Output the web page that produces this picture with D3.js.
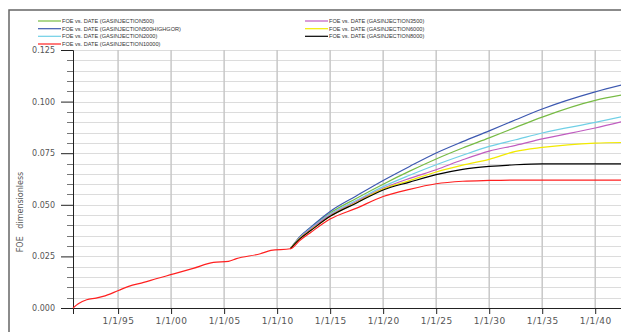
<!DOCTYPE html>
<html>
<head>
<meta charset="utf-8">
<script src="https://cdn.jsdelivr.net/npm/d3@7/dist/d3.min.js"></script>
<style>
  body { margin: 0; background: #fff; }
  svg { display: block; }
</style>
</head>
<body>
<div id="chart"></div>
<script>
// history (shared by every case, drawn once under the red case)
var histDates = ["1990-10-01","1991-04-01","1992-01-15","1992-12-01","1993-08-01","1995-01-15",
  "1996-01-01","1997-06-01","1998-09-01","2000-04-01","2002-02-01","2004-01-01","2005-06-01",
  "2006-03-01","2008-06-01","2009-06-01","2011-04-01"];
var histFoe = [0.0000,0.0020,0.0040,0.0048,0.0056,0.0085,0.0105,0.0124,0.0143,0.0165,0.0192,
  0.0221,0.0226,0.0239,0.0263,0.0279,0.0287];

// forecast dates
var fcDates = ["2012-03-01","2013-03-01","2015-01-01","2017-07-01","2020-01-01","2022-07-01",
  "2025-01-01","2027-07-01","2030-01-01","2032-07-01","2035-01-01","2040-01-01","2042-08-15"];

var gi500      = [0.0345,0.0388,0.0460,0.0532,0.0600,0.0663,0.0722,0.0775,0.0824,0.0875,0.0925,0.1006,0.1033];
var gi500hgor  = [0.0347,0.0392,0.0468,0.0544,0.0618,0.0686,0.0751,0.0806,0.0858,0.0912,0.0964,0.1047,0.1082];
var gi2000     = [0.0343,0.0385,0.0455,0.0522,0.0588,0.0643,0.0694,0.0740,0.0783,0.0815,0.0848,0.0899,0.0928];
var gi3500     = [0.0341,0.0382,0.0450,0.0516,0.0580,0.0628,0.0670,0.0718,0.0760,0.0788,0.0819,0.0872,0.0904];
var gi6000     = [0.0338,0.0377,0.0445,0.0511,0.0576,0.0617,0.0659,0.0692,0.0720,0.0759,0.0778,0.0799,0.0802];
var gi8000     = [0.0336,0.0375,0.0444,0.0509,0.0572,0.0610,0.0646,0.0672,0.0686,0.0694,0.0698,0.0698,0.0698];
var gi10000    = [0.0328,0.0366,0.0431,0.0484,0.0540,0.0575,0.0602,0.0614,0.0618,0.0620,0.0620,0.0620,0.0620];

var seriesNames  = ["GASINJECTION500","GASINJECTION500HIGHGOR","GASINJECTION2000","GASINJECTION10000",
                    "GASINJECTION3500","GASINJECTION6000","GASINJECTION8000"];
var seriesVals   = [gi500, gi500hgor, gi2000, gi10000, gi3500, gi6000, gi8000];
var seriesColors = ["#77bb44","#3c58b0","#70d0e6","#ff2020","#c05cc0","#f2ea00","#000000"];
var drawOrder    = [0, 1, 2, 4, 5, 6, 3];

var yTicks = [0, 0.025, 0.05, 0.075, 0.1, 0.125];

var width = 621, height = 332;
var parse = d3.timeParse("%Y-%m-%d");

var svg = d3.select("#chart").append("svg")
    .attr("width", width)
    .attr("height", height);

// frame
svg.append("rect")
    .attr("x", 9).attr("y", 10)
    .attr("width", 700).attr("height", 400)
    .style("fill", "none")
    .style("stroke", "#666")
    .style("stroke-width", 1.5);

var x = d3.scaleTime()
    .domain([parse("1990-10-01"), parse("2042-08-15")])
    .range([73, 623]);

var y = d3.scaleLinear()
    .domain([0, 0.125])
    .range([308, 50]);

var xTickDates = d3.range(1995, 2041, 5).map(function(yr){ return new Date(yr, 0, 1); });
var minorY = d3.range(0, 0.1251, 0.005);

// horizontal grid
svg.append("g").selectAll("line")
    .data(minorY.slice(1))
    .enter().append("line")
    .attr("x1", 73).attr("x2", width)
    .attr("y1", function(d){ return Math.round(y(d)) + 0.5; })
    .attr("y2", function(d){ return Math.round(y(d)) + 0.5; })
    .style("stroke", "#dcdcdc")
    .style("stroke-width", 1.2);

// vertical grid
svg.append("g").selectAll("line")
    .data(xTickDates)
    .enter().append("line")
    .attr("x1", function(d){ return x(d); })
    .attr("x2", function(d){ return x(d); })
    .attr("y1", 50).attr("y2", 308)
    .style("stroke", "#c8c8c8")
    .style("stroke-width", 1.5);

// y axis
var yAxis = svg.append("g")
    .attr("transform", "translate(73,0)")
    .call(d3.axisLeft(y).tickValues(yTicks).tickFormat(d3.format(".3f")).tickSize(12).tickPadding(6));
yAxis.select(".domain").style("stroke", "#222");
yAxis.selectAll(".tick line").style("stroke", "#222");
yAxis.selectAll("text")
    .style("font-family", "DejaVu Sans, Verdana, sans-serif")
    .style("font-size", "8px")
    .style("fill", "#555");

svg.append("g").selectAll("line")
    .data(minorY.filter(function(d, i){ return i % 5 != 0; }))
    .enter().append("line")
    .attr("x1", 67).attr("x2", 73)
    .attr("y1", function(d){ return Math.round(y(d)) + 0.5; })
    .attr("y2", function(d){ return Math.round(y(d)) + 0.5; })
    .style("stroke", "#777");

// x axis
var xAxis = svg.append("g")
    .attr("transform", "translate(0,308)")
    .call(d3.axisBottom(x).tickValues(xTickDates).tickFormat(d3.timeFormat("%-m/%-d/%y")).tickSize(6).tickPadding(4));
xAxis.select(".domain").style("stroke", "#222");
xAxis.selectAll(".tick line").style("stroke", "#222");
xAxis.selectAll("text")
    .style("font-family", "DejaVu Sans, Verdana, sans-serif")
    .style("font-size", "9px")
    .style("letter-spacing", "0.5px")
    .style("fill", "#555");

// y title
svg.append("text")
    .attr("transform", "translate(23,212) rotate(-90)")
    .attr("text-anchor", "middle")
    .style("font-family", "DejaVu Sans, Verdana, sans-serif")
    .style("font-size", "8px")
    .style("fill", "#555")
    .style("white-space", "pre")
    .text("FOE   dimensionless");

// lines
var line = d3.line()
    .x(function(d){ return x(d.date); })
    .y(function(d){ return y(d.v); })
    .curve(d3.curveMonotoneX);

var nh = histDates.length;
var plot = svg.append("g");
drawOrder.forEach(function(i){
    // red case carries the whole history, the others start from the last history point
    var from = seriesNames[i] == "GASINJECTION10000" ? 0 : nh - 1;
    var pts = histDates.slice(from).map(function(d, j){ return { date: parse(d), v: histFoe[from + j] }; })
        .concat(fcDates.map(function(d, j){ return { date: parse(d), v: seriesVals[i][j] }; }));
    plot.append("path")
        .datum(pts)
        .attr("d", line)
        .style("fill", "none")
        .style("stroke", seriesColors[i])
        .style("stroke-width", 1.2);
});

// legend
var legPos = [[38,21],[38,28.7],[38,36.3],[38,44],[305,21],[305,28.7],[305,36.3]];
var leg = svg.append("g");
seriesNames.forEach(function(name, i){
    var p = legPos[i];
    leg.append("line")
        .attr("x1", p[0]).attr("x2", p[0] + 23)
        .attr("y1", p[1]).attr("y2", p[1])
        .style("stroke", seriesColors[i])
        .style("stroke-width", 1.2);
    leg.append("text")
        .attr("x", p[0] + 24).attr("y", p[1] + 2)
        .style("font-family", "Liberation Sans, Arial, sans-serif")
        .style("font-size", "5.6px")
        .style("fill", "#333")
        .text("FOE vs. DATE (" + name + ")");
});
</script>
</body>
</html>
